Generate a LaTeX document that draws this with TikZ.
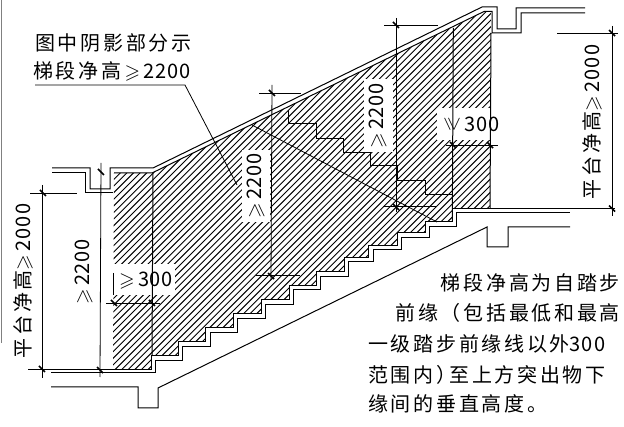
\documentclass[tikz,border=0pt]{standalone}
\usepackage{amsmath,amssymb}
\usepackage{fontspec}
\setmainfont[LetterSpace=4]{Noto Sans CJK SC}
\newfontfamily\cjk[LetterSpace=13.5]{Noto Sans CJK SC}
\newfontfamily\dig[LetterSpace=5]{Noto Sans CJK SC}
\newcommand{\gs}{$\geqslant$}
\begin{document}
\begin{tikzpicture}[x=1pt, y=-1pt]
		\tikzstyle{wall} = [line width=1pt]
		\tikzstyle{thin} = [line width=.8pt]
		\tikzstyle{hatch} = [line width=.95pt]
		\tikzstyle{tick} = [line width=1.5pt]
		\tikzstyle{label} = [font=\fontsize{20}{20}\selectfont, inner sep=2pt]
		\useasboundingbox (0, 0) rectangle (624, 427);

		\draw [gray, line width=1pt] (1.5, 0) -- (1.5, 343);

		\begin{scope}
		\clip (114, 173) -- (152, 173) -- (484, 12) -- (491, 12) -- (490, 208.5) -- (452, 208.5)
			-- (452, 222) -- (425, 222) -- (425, 233) -- (397, 233) -- (397, 245.5) -- (368.5, 245.5)
			-- (368.5, 257.5) -- (344, 257.5) -- (344, 272) -- (316, 272) -- (316, 285.5) -- (289, 285.5)
			-- (289, 300) -- (261, 300) -- (261, 314) -- (233, 314) -- (233, 328) -- (205.5, 328)
			-- (205.5, 342) -- (178, 342) -- (178, 356) -- (151, 356) -- (151, 369.5) -- (113, 369.5) -- cycle;
		\foreach \c in {280, 286.6, ..., 720}
			\draw [hatch] (\c, 0) -- (\c-450, 450);
		\end{scope}

		\node [fill=white, minimum width=62pt, minimum height=31pt, inner sep=0pt] (box1) at (144, 280) {};
		\node [fill=white, minimum width=56pt, minimum height=32pt, inner sep=0pt] (box2) at (465, 124) {};
		\node [fill=white, minimum width=28pt, minimum height=72pt, inner sep=0pt] (box3) at (256, 186) {};
		\node [fill=white, minimum width=29pt, minimum height=73pt, inner sep=0pt] (box4) at (378, 116) {};

		\draw [wall] (52, 168) -- (90, 168) -- (90, 189) -- (110, 189) -- (110, 168) -- (153, 168)
			-- (482, 7) -- (497, 7) -- (497, 29) -- (516, 29) -- (516, 8) -- (585, 8);
		\draw [wall] (52, 172.5) -- (85, 172.5) -- (85, 193) -- (113, 193);
		\draw [wall] (114, 173) -- (152, 173) -- (484, 11.5) -- (492, 11.5) -- (492, 33) -- (521, 33)
			-- (521, 13) -- (585, 13);
		\draw [wall] (491, 33) -- (490, 208.5);

		\draw [wall] (51, 373) -- (155.7, 373) -- (155.7, 360.5) -- (182.7, 360.5) -- (182.7, 346.5)
			-- (210, 346.5) -- (210, 332.5) -- (237.7, 332.5) -- (237.7, 318.5) -- (265.7, 318.5)
			-- (265.7, 304.5) -- (293.7, 304.5) -- (293.7, 290) -- (320.7, 290) -- (320.7, 276.5)
			-- (348.3, 276.5) -- (348.3, 262) -- (373, 262) -- (373, 250) -- (401.7, 250) -- (401.7, 237.5)
			-- (429.5, 237.5) -- (429.5, 226.5) -- (456.7, 226.5) -- (456.7, 213) -- (570, 213);
		\draw [wall] (113, 369.5) -- (151, 369.5) -- (151, 356) -- (178, 356) -- (178, 342)
			-- (205.5, 342) -- (205.5, 328) -- (233, 328) -- (233, 314) -- (261, 314) -- (261, 300)
			-- (289, 300) -- (289, 285.5) -- (316, 285.5) -- (316, 272) -- (344, 272) -- (344, 257.5)
			-- (368.5, 257.5) -- (368.5, 245.5) -- (397, 245.5) -- (397, 233) -- (425, 233) -- (425, 222)
			-- (452, 222) -- (452, 208.5) -- (615, 208.5);
		\draw [wall] (51, 387) -- (138, 387) -- (138, 408) -- (158, 408) -- (158, 388) -- (487, 227)
			-- (487, 247) -- (508, 247) -- (508, 227) -- (570, 227);

		\draw [wall] (153, 173) -- (152, 356);
		\draw [wall] (288.3, 110) -- (288.3, 124) -- (316, 124) -- (316, 138.3) -- (343.3, 138.3) -- (343.3, 152.3)
			-- (370.7, 152.3) -- (370.7, 166) -- (397.7, 166) -- (397.7, 180.3) -- (425.7, 180.3)
			-- (425.7, 194.3) -- (452.3, 194.3);
		\draw [wall] (453.3, 28) -- (452.3, 222);
		\draw [thin] (252, 125) -- (437, 222);
		\draw [thin] (35, 85) -- (185, 85) -- (237, 185);
		\draw [thin] (113, 273) -- (113, 295);

		\draw [thin] (30, 193) -- (77, 193);
		\draw [thin] (28, 369) -- (113, 369);
		\draw [thin] (42, 185) -- (42, 378);
		\draw [thin] (101, 163) -- (100, 377);
		\draw [thin] (106, 303) -- (160, 303);
		\draw [thin] (272, 85) -- (271, 280);
		\draw [thin] (259, 93) -- (301, 93);
		\draw [thin] (256, 275) -- (300, 275);
		\draw [thin] (396, 18) -- (396, 212);
		\draw [thin] (384, 25) -- (438, 25);
		\draw [thin] (383, 206.5) -- (437, 206.5);
		\draw [thin] (446, 145) -- (498, 145);
		\draw [thin] (557, 33) -- (618, 33);
		\draw [thin] (612, 26) -- (612, 216);

		\foreach \p in {(101, 172), (100, 370), (43, 193), (42, 369), (114, 303), (152, 303), (272, 93),
			(271, 276), (396, 25), (396, 207), (453, 145), (490, 145), (612, 33), (612, 208.5)}
			\draw [tick] \p +(-3, -3) -- +(3, 3);

		\node [label, anchor=west] (note1) at (33, 43) {\cjk 图中阴影部分示};
		\node [label, anchor=west] (note2) at (31, 71) {\cjk 梯段净高\,\gs\,{\dig 2200}};
		\node [label, rotate=90] (plat1) at (23, 281) {\cjk 平台净高\gs\,{\dig 2000}};
		\node [label, rotate=90] (plat2) at (592, 122) {\cjk 平台净高\gs\,{\dig 2000}};
		\node [label, rotate=90] (clear1) at (84, 272) {\gs\,2200};
		\node [label, rotate=90] (clear2) at (256, 186) {\gs\,2200};
		\node [label, rotate=90] (clear3) at (378, 116) {\gs\,2200};
		\node [label, anchor=west] (run1) at (117, 281) {\gs\,300};
		\node [label, rotate=-90] (run2a) at (452, 124) {\gs};
		\node [label, anchor=west] (run2b) at (462, 124) {300};

		\node [label, anchor=east] (text1) at (622, 283) {\cjk 梯段净高为自踏步};
		\node [label, anchor=east] (text2) at (622, 313) {\cjk 前缘（包括最低和最高};
		\node [label, anchor=west] (text3) at (366, 344) {\cjk 一级踏步前缘线以外{\dig 300}};
		\node [label, anchor=west] (text4) at (366, 375) {\cjk 范围内）\kern-7pt 至上方突出物下};
		\node [label, anchor=west] (text5) at (366, 404) {\cjk 缘间的垂直高度。};
\end{tikzpicture}
\end{document}
